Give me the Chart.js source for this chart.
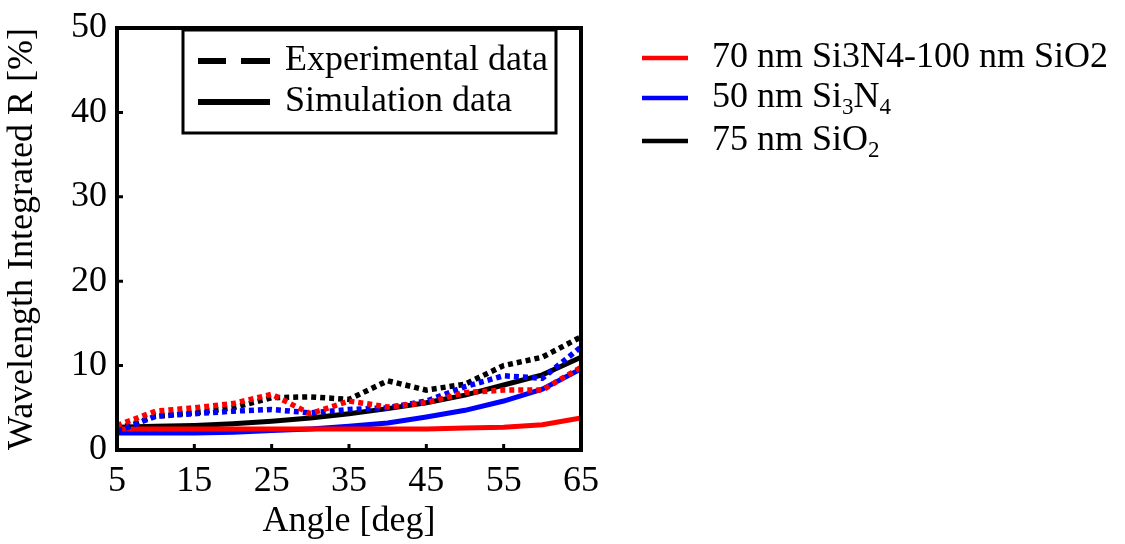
<!DOCTYPE html>
<html>
<head>
<meta charset="utf-8">
<script src="https://cdn.jsdelivr.net/npm/chart.js@4"></script>
<style>
  html, body { margin: 0; padding: 0; background: #fff; }
  #wrap { width: 1125px; height: 544px; }
</style>
</head>
<body>
<div id="wrap"><canvas id="myChart" width="1125" height="544"></canvas></div>
<script>
var angles = [5, 10, 15, 20, 25, 30, 35, 40, 45, 50, 55, 60, 65];
var x_ticks = [5, 15, 25, 35, 45, 55, 65];

// experimental (dotted)
var exp_red   = [2.9, 4.6, 5.0, 5.5, 6.6, 4.3, 5.8, 5.1, 5.6, 6.8, 7.1, 7.1, 9.8];
var exp_blue  = [2.2, 4.0, 4.3, 4.6, 4.8, 4.4, 4.8, 5.0, 5.8, 7.5, 8.8, 8.5, 12.2];
var exp_black = [2.5, 4.0, 4.4, 5.0, 6.2, 6.3, 6.0, 8.2, 7.1, 7.8, 10.0, 11.0, 13.4];

// simulation (solid)
var sim_red   = [2.5, 2.5, 2.5, 2.5, 2.5, 2.5, 2.5, 2.5, 2.5, 2.6, 2.7, 3.0, 3.8];
var sim_blue  = [2.0, 2.0, 2.0, 2.1, 2.3, 2.5, 2.8, 3.2, 3.9, 4.7, 5.8, 7.2, 9.6];
var sim_black = [2.7, 2.8, 2.9, 3.1, 3.4, 3.8, 4.3, 4.9, 5.6, 6.5, 7.7, 8.9, 11.0];

var FONT = "'Liberation Serif', 'Times New Roman', serif";
var SIZE = 36;

function pts(values){
	var out = [];
	for (var i in angles){
		out.push({x: angles[i], y: values[i]});
	}
	return out;
}

function dotted(label, values, color){
	return {label: label, data: pts(values), borderColor: color, borderWidth: 5.5,
		borderDash: [5, 4], pointRadius: 0, fill: false, tension: 0};
}
function solid(label, values, color){
	return {label: label, data: pts(values), borderColor: color, borderWidth: 5,
		pointRadius: 0, fill: false, tension: 0};
}

// text with subscripts: parts = [[text, isSub], ...]
function drawRich(ctx, parts, x, y, size){
	for (var i in parts){
		var t = parts[i][0];
		var sub = parts[i][1];
		ctx.font = (sub ? Math.round(size * 0.65) : size) + "px " + FONT;
		ctx.fillText(t, x, sub ? y + size * 0.28 : y);
		x += ctx.measureText(t).width;
	}
}

var framePlugin = {
	id: 'frame',
	afterDraw: function(chart){
		var ctx = chart.ctx;
		var a = chart.chartArea;
		var xs = chart.scales.x, ys = chart.scales.y;
		ctx.save();
		ctx.strokeStyle = '#000';
		ctx.lineWidth = 4;
		ctx.strokeRect(a.left, a.top, a.right - a.left, a.bottom - a.top);

		// inward ticks
		ctx.lineWidth = 3;
		ctx.beginPath();
		[10, 20, 30, 40].forEach(function(v){
			var py = ys.getPixelForValue(v);
			ctx.moveTo(a.left, py); ctx.lineTo(a.left + 6, py);
		});
		[15, 25, 35, 45, 55].forEach(function(v){
			var px = xs.getPixelForValue(v);
			ctx.moveTo(px, a.bottom); ctx.lineTo(px, a.bottom - 6);
		});
		ctx.stroke();

		// inner legend (line style)
		ctx.lineWidth = 3;
		ctx.strokeRect(183, 30, 373, 103);
		ctx.lineWidth = 6;
		ctx.beginPath();
		ctx.moveTo(198, 61); ctx.lineTo(226, 61);
		ctx.moveTo(241, 61); ctx.lineTo(270, 61);
		ctx.moveTo(198, 102); ctx.lineTo(270, 102);
		ctx.stroke();
		ctx.fillStyle = '#000';
		ctx.textBaseline = 'middle';
		ctx.font = SIZE + "px " + FONT;
		ctx.fillText('Experimental data', 285, 61);
		ctx.fillText('Simulation data', 285, 102);

		// outer legend (colours)
		var rows = [
			{c: '#ff0000', y: 58, parts: [['70 nm Si3N4-100 nm SiO2', false]]},
			{c: '#0000ff', y: 98, parts: [['50 nm Si', false], ['3', true], ['N', false], ['4', true]]},
			{c: '#000000', y: 141, parts: [['75 nm SiO', false], ['2', true]]}
		];
		rows.forEach(function(r){
			ctx.strokeStyle = r.c;
			ctx.lineWidth = 4.5;
			ctx.beginPath();
			ctx.moveTo(642, r.y); ctx.lineTo(688, r.y);
			ctx.stroke();
			ctx.fillStyle = '#000';
			drawRich(ctx, r.parts, 712, r.y, SIZE);
		});
		ctx.restore();
	}
};

const ctx = document.getElementById('myChart');

new Chart(ctx, {
	type: 'line',
	data: {
		datasets: [
			dotted('exp red', exp_red, '#ff0000'),
			dotted('exp blue', exp_blue, '#0000ff'),
			dotted('exp black', exp_black, '#000000'),
			solid('70 nm Si3N4-100 nm SiO2', sim_red, '#ff0000'),
			solid('50 nm Si3N4', sim_blue, '#0000ff'),
			solid('75 nm SiO2', sim_black, '#000000')
		]
	},
	options: {
		responsive: false,
		animation: false,
		layout: {padding: {left: 0, right: 544, top: 10, bottom: 0}},
		plugins: {
			legend: {display: false},
			tooltip: {enabled: false}
		},
		scales: {
			x: {
				type: 'linear',
				min: 5,
				max: 65,
				afterBuildTicks: function(scale){
					scale.ticks = x_ticks.map(function(v){ return {value: v}; });
				},
				afterFit: function(scale){ scale.height = 94; },
				grid: {display: false, drawTicks: false},
				border: {display: false},
				ticks: {color: '#000', padding: 14, maxRotation: 0, autoSkip: false,
					font: {family: FONT, size: SIZE, lineHeight: 1}},
				title: {display: true, text: 'Angle [deg]', color: '#000',
					padding: {top: 0, bottom: 4}, font: {family: FONT, size: SIZE, lineHeight: 1}}
			},
			y: {
				min: 0,
				max: 50,
				ticks: {stepSize: 10, color: '#000', padding: 10,
					font: {family: FONT, size: SIZE, lineHeight: 1}},
				afterFit: function(scale){ scale.width = 117; },
				grid: {display: false, drawTicks: false},
				border: {display: false},
				title: {display: true, text: 'Wavelength Integrated R [%]', color: '#000',
					padding: {top: 5, bottom: 0}, font: {family: FONT, size: SIZE, lineHeight: 1}}
			}
		}
	},
	plugins: [framePlugin]
});
</script>
</body>
</html>
